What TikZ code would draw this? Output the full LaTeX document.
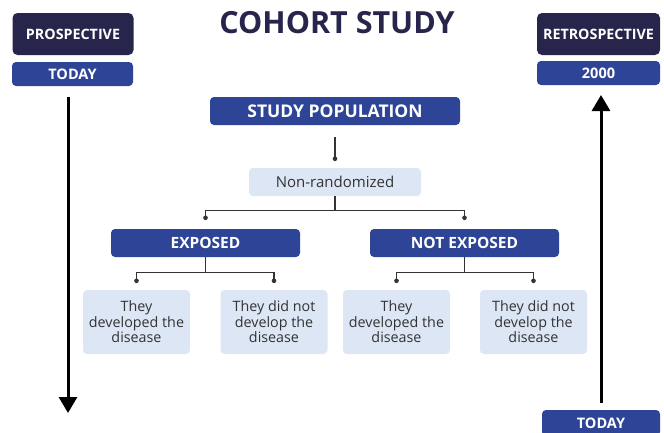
\documentclass[tikz,border=0pt]{standalone}
\usepackage{fontspec}
\setmainfont{Open Sans}
\usetikzlibrary{arrows.meta}

\definecolor{navy}{HTML}{27254B}
\definecolor{royal}{HTML}{2E4496}
\definecolor{pale}{HTML}{DCE6F5}
\definecolor{ink}{HTML}{333333}

\tikzset{
  headbox/.style={fill=navy, rounded corners=5pt, text=white, font=\bfseries\fontsize{14.3}{16}\selectfont,
    minimum width=121pt, minimum height=42pt, inner sep=0pt},
  datebox/.style={fill=royal, rounded corners=4pt, text=white, font=\bfseries\fontsize{14.5}{16}\selectfont,
    minimum width=121pt, minimum height=24pt, inner sep=0pt},
  groupbox/.style={fill=royal, rounded corners=4pt, text=white, font=\bfseries\fontsize{15.5}{17}\selectfont,
    minimum width=189pt, minimum height=28pt, inner sep=0pt},
  outbox/.style={fill=pale, rounded corners=4pt, text=ink, font=\fontsize{14.3}{15.6}\selectfont,
    minimum width=107pt, minimum height=64pt, inner sep=0pt, align=center},
  link/.style={draw=ink, line width=1.1pt},
  dot/.style={circle, fill=ink, inner sep=0pt, minimum size=4.6pt},
  timeline/.style={line width=3pt, -{Triangle[width=18pt,length=16pt]}},
}

\begin{document}
\begin{tikzpicture}[x=1pt, y=-1pt]
  \useasboundingbox (0,0) rectangle (664,432);

  % title and time labels
  \node[text=navy, font=\bfseries\fontsize{30.5}{33}\selectfont] (title) at (337,23) {COHORT STUDY};
  \node[headbox] (pros) at (73,34) {PROSPECTIVE};
  \node[datebox] (today1) at (72.5,74) {TODAY};
  \node[headbox, minimum width=123pt] (retro) at (598.5,34) {RETROSPECTIVE};
  \node[datebox, minimum width=123pt] (year) at (598.5,73) {2000};
  \node[datebox, minimum width=118pt, minimum height=26pt] (today2) at (601,423) {TODAY};

  % time arrows
  \coordinate (pstart) at (68,97);
  \coordinate (pend) at (68,413);
  \coordinate (rstart) at (601,403);
  \coordinate (rend) at (601,95);
  \draw[timeline] (pstart) -- (pend);
  \draw[timeline] (rstart) -- (rend);

  % tree
  \node[groupbox, minimum width=250pt, font=\bfseries\fontsize{17.5}{19}\selectfont] (pop) at (335,111) {STUDY POPULATION};
  \node[fill=pale, rounded corners=4pt, text=ink, font=\fontsize{15}{17}\selectfont,
    minimum width=172pt, minimum height=28pt] (nonrand) at (335,182) {Non-randomized};
  \node[groupbox] (exp) at (205.5,243) {EXPOSED};
  \node[groupbox] (nexp) at (464.5,243) {NOT EXPOSED};

  \node[outbox] (e1) at (136.5,322) {They\\developed the\\disease};
  \node[outbox] (e2) at (274,322) {They did not\\develop the\\disease};
  \node[outbox] (n1) at (396.5,322) {They\\developed the\\disease};
  \node[outbox] (n2) at (533.5,322) {They did not\\develop the\\disease};

  % connectors
  \draw[link] ([yshift=-12pt]pop.south) -- ([yshift=9pt]nonrand.north) node[dot] {};

  \draw[link] (nonrand.south) -- ++(0,14) coordinate (j0);
  \draw[link] ([yshift=11pt]exp.north) node[dot] {} |- (j0) -| ([yshift=11pt]nexp.north) node[dot] {};

  \draw[link] (exp.south) -- ++(0,15) coordinate (j1);
  \draw[link] ([yshift=9pt]e1.north) node[dot] {} |- (j1) -| ([yshift=9pt]e2.north) node[dot] {};

  \draw[link] (nexp.south) -- ++(0,15) coordinate (j2);
  \draw[link] ([yshift=9pt]n1.north) node[dot] {} |- (j2) -| ([yshift=9pt]n2.north) node[dot] {};
\end{tikzpicture}
\end{document}
